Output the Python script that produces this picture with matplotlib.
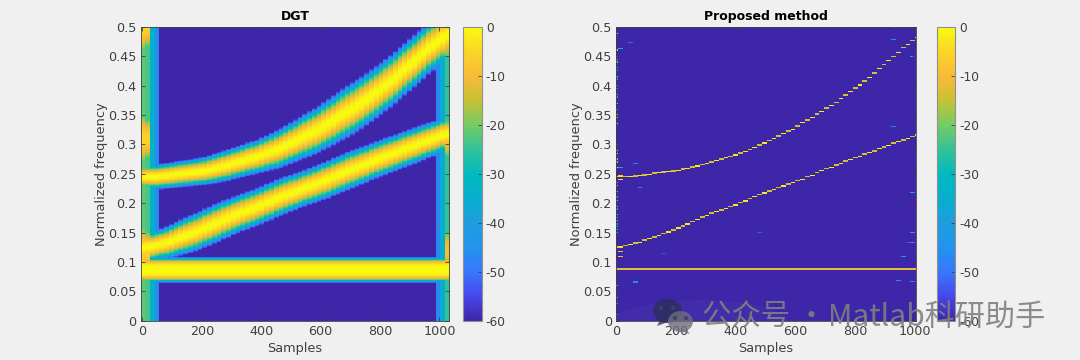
import numpy as np
import matplotlib
matplotlib.use('Agg')
import matplotlib.pyplot as plt
from matplotlib.colors import LinearSegmentedColormap
from matplotlib.patches import Ellipse, Polygon

# ridge frequency per analysis column (hop = 16 samples)
upper_ridge = [.245, .245, .245, .245, .246, .247, .248, .249, .250, .251, .252, .253, .254,
               .255, .257, .259, .261, .263, .265, .268, .270, .272, .275, .277, .279, .282,
               .285, .288, .291, .294, .298, .302, .306, .310, .314, .318, .322, .326, .331,
               .336, .341, .346, .351, .356, .361, .366, .371, .377, .383, .389, .395, .401,
               .407, .414, .421, .428, .435, .442, .449, .456, .464, .470, .476, .481, .486]
lower_ridge = [.125, .126, .127, .129, .131, .133, .136, .139, .142, .145, .148, .151, .154,
               .158, .161, .165, .168, .172, .175, .179, .182, .185, .188, .191, .194, .197,
               .201, .204, .208, .211, .214, .217, .220, .223, .226, .229, .232, .235, .238,
               .241, .245, .248, .251, .255, .258, .261, .264, .267, .271, .274, .277, .280,
               .283, .286, .289, .292, .295, .298, .301, .304, .307, .310, .313, .316, .318]
flat_ridge = [.087] * 65

# window leakage in the first and last columns of the DGT (dB)
edge_left_db = [-22, -23, -33, -47]
edge_right_db = [-47, -35, -25]
left_patch_freq = [.50, .31, .12]
right_patch_freq = [.48, .31, .12]

# stray points in the reassigned plane: column, frequency, dB
stray_col = [1, 0, 1, 3, 4, 1, 58, 58, 58, 62, 5, 30, 10, 4, 60, 59, 61, 62, 62, 62, 62]
stray_freq = [.50, .489, .4625, .473, .268, .26, .50, .478, .33, .449, .226, .15, .115, .066,
              .109, .068, .132, .218, .15, .133, .0665]
stray_db = [-22, -8, -32, -52, -50, -35, -46, -46, -50, -28, -46, -54, -55, -48,
            -42, -46, -54, -38, -44, -46, -46]
edge_freq = [.46, .45, .445, .44, .43, .425, .415, .41, .40, .395, .385, .38, .37, .36, .35, .345,
             .335, .30, .29, .285, .275, .27, .26, .235, .23, .22, .21, .205, .20, .195, .19,
             .18, .175, .17, .165, .16, .155, .15, .06, .04, .03, .01]
edge_db = [-8, -22, -25, -20, -28, -30, -25, -32, -28, -35, -25, -30, -18, -25, -15, -14,
           -10, -10, -14, -12, -18, -15, -12, -22, -12, -25, -28, -20, -32, -22, -35,
           -25, -30, -22, -35, -28, -32, -25, -16, -22, -30, -35]
start_dash_col = [1, 1, 1, 1, 1]
start_dash_freq = [.247, .241, .125, .118, .11]
start_dash_db = [-5, -3, -5, -10, -10]

xticks = [0, 200, 400, 600, 800, 1000]
yticks = [0, .05, .1, .15, .2, .25, .3, .35, .4, .45, .5]
ytick_labels = ['0', '0.05', '0.1', '0.15', '0.2', '0.25', '0.3', '0.35', '0.4', '0.45', '0.5']
cbar_ticks = [-60, -50, -40, -30, -20, -10, 0]

parula = LinearSegmentedColormap.from_list('parula', [
    (.242, .150, .660), (.278, .278, .925), (.22, .47, .99), (.13, .58, .93), (.12, .62, .87),
    (.03, .68, .81), (.0, .73, .75), (.2, .76, .6), (.45, .8, .4), (.78, .76, .2),
    (.98, .73, .22), (.98, .83, .16), (.976, .984, .055)])

TEXT = '#404040'
hop = 16
n_rows = 512
n_cols = len(upper_ridge)
freq = (np.arange(n_rows) + .5) / n_rows * .5
extent = [-hop / 2, (n_cols - .5) * hop, 0, .5]


def band(ridge, power):
    ridge = np.array(ridge)
    # slope over a few columns, the read values are too coarse for a plain difference
    slope = np.convolve(np.gradient(ridge), np.ones(9) / 9, mode='same') / hop
    slope[:4] = slope[4]
    slope[-4:] = slope[-5]
    # the band stops getting wider once the chirp is fast enough
    width = np.minimum(np.sqrt(.022 ** 2 + (125 * slope) ** 2), .046)
    d = np.abs(freq[:, None] - ridge[None, :])
    return -60 * (d / width[None, :]) ** power


def dgt_image():
    img = np.full((n_rows, n_cols), -60.)
    for k, db in enumerate(edge_left_db):
        img[:, k] = db
    for k, db in enumerate(edge_right_db):
        img[:, n_cols - 3 + k] = db
    for k in range(2):
        for f in left_patch_freq:
            img[:, k] = np.maximum(img[:, k], -5 - 60 * ((freq - f) / .07) ** 2 * (1 + k / 2))
    for f in right_patch_freq:
        img[:, -1] = np.maximum(img[:, -1], -9 - 60 * ((freq - f) / .06) ** 2)
    img = np.maximum(img, band(upper_ridge, 2))
    img = np.maximum(img, band(lower_ridge, 2))
    img = np.maximum(img, band(flat_ridge, 3.5))
    return img


def put_point(img, col, f, db, n=2):
    pos = f / .5 * n_rows - .5
    row = int(np.clip(round(pos), 0, n_rows - n))
    for r in range(row, row + n):
        img[r, col] = max(img[r, col], db)


def reassigned_image():
    img = np.full((n_rows, n_cols), -60.)
    for ridge in (upper_ridge, lower_ridge):
        for col, f in enumerate(ridge):
            # every other dash falls between two bins and comes out duller and thicker
            if col % 2:
                put_point(img, col, f, -2)
            else:
                put_point(img, col, f, -14, n=3)
    for col, f in enumerate(flat_ridge):
        put_point(img, col, f, -12, n=3)
    for col, f, db in zip(stray_col, stray_freq, stray_db):
        put_point(img, col, f, db)
    for f, db in zip(edge_freq, edge_db):
        put_point(img, 0, f, db)
    for col, f, db in zip(start_dash_col, start_dash_freq, start_dash_db):
        put_point(img, col, f, db)
    return img


def style_axes(ax, title, xlim):
    ax.set_xlim(*xlim)
    ax.set_ylim(0, .5)
    ax.set_xticks(xticks)
    ax.set_yticks(yticks)
    ax.set_yticklabels(ytick_labels)
    ax.tick_params(direction='in', length=3, width=.6, top=True, right=True, colors=TEXT,
                   labelsize=9.2, pad=3)
    for s in ax.spines.values():
        s.set_color(TEXT)
        s.set_linewidth(.6)
    ax.set_title(title, fontsize=9, fontweight='bold', color='black', pad=5)
    ax.set_xlabel('Samples', fontsize=9.3, color=TEXT, labelpad=3)
    ax.set_ylabel('Normalized frequency', fontsize=9.4, color=TEXT, labelpad=0)


def add_colorbar(fig, im, rect):
    cax = fig.add_axes(rect)
    cb = fig.colorbar(im, cax=cax)
    cb.set_ticks(cbar_ticks)
    cb.set_ticklabels([str(t) for t in cbar_ticks])
    cax.tick_params(direction='in', length=3, width=.6, colors=TEXT, labelsize=8.8, pad=3)
    cb.outline.set_edgecolor('#909090')
    cb.outline.set_linewidth(.8)


W, H = 1080, 360
fig = plt.figure(figsize=(W / 100, H / 100), dpi=100, facecolor='#f0f0f0')


def rect(x0, x1, y0=27, y1=320.7):
    return [x0 / W, 1 - y1 / H, (x1 - x0) / W, (y1 - y0) / H]


ax1 = fig.add_axes(rect(140.7, 449))
im1 = ax1.imshow(dgt_image(), origin='lower', aspect='auto', extent=extent, cmap=parula,
                 vmin=-60, vmax=0, interpolation='nearest')
style_axes(ax1, 'DGT', (-6, 1032))
add_colorbar(fig, im1, rect(463.3, 481.7))

ax2 = fig.add_axes(rect(616, 915.7))
im2 = ax2.imshow(reassigned_image(), origin='lower', aspect='auto', extent=extent, cmap=parula,
                 vmin=-60, vmax=0, interpolation='nearest')
style_axes(ax2, 'Proposed method', (0, 1003))
add_colorbar(fig, im2, rect(937, 955))

# watermark over the lower right, in pixel coordinates of the figure
overlay = fig.add_axes([0, 0, 1, 1], facecolor='none')
overlay.set_xlim(0, W)
overlay.set_ylim(H, 0)
overlay.axis('off')
glow = overlay.add_patch(Ellipse((700, 325), 180, 50, color='white', alpha=.03, lw=0))
glow.set_clip_path(ax2.patch)
overlay.add_patch(Ellipse((667.5, 311), 29, 24, color='#2c2c55', alpha=.75, lw=0))
overlay.add_patch(Polygon([(660, 320), (657, 326), (668, 322)], color='#2c2c55', alpha=.75, lw=0))
overlay.add_patch(Ellipse((680.5, 321.5), 25, 21, color='#6e6e7e', alpha=.8, lw=0))
overlay.add_patch(Polygon([(686, 329), (690, 334), (681, 331)], color='#6e6e7e', alpha=.8, lw=0))
for ex, ey, ec in [(661, 308, '#44446a'), (673, 308, '#44446a'), (675, 318, '#3a3a50'), (686, 318, '#3a3a50')]:
    overlay.add_patch(Ellipse((ex, ey), 4, 4, color=ec, alpha=.8, lw=0))
cjk = ['Noto Sans CJK SC', 'DejaVu Sans']
overlay.text(702, 317, '公众号 ·', fontsize=21.2, color='#808080', alpha=.9,
             va='center', ha='left', family=cjk)
overlay.text(828, 317, 'Matlab科研助手', fontsize=21.7, color='#808080', alpha=.9,
             va='center', ha='left', family=cjk)

fig.savefig('out.png', dpi=100, facecolor=fig.get_facecolor())
